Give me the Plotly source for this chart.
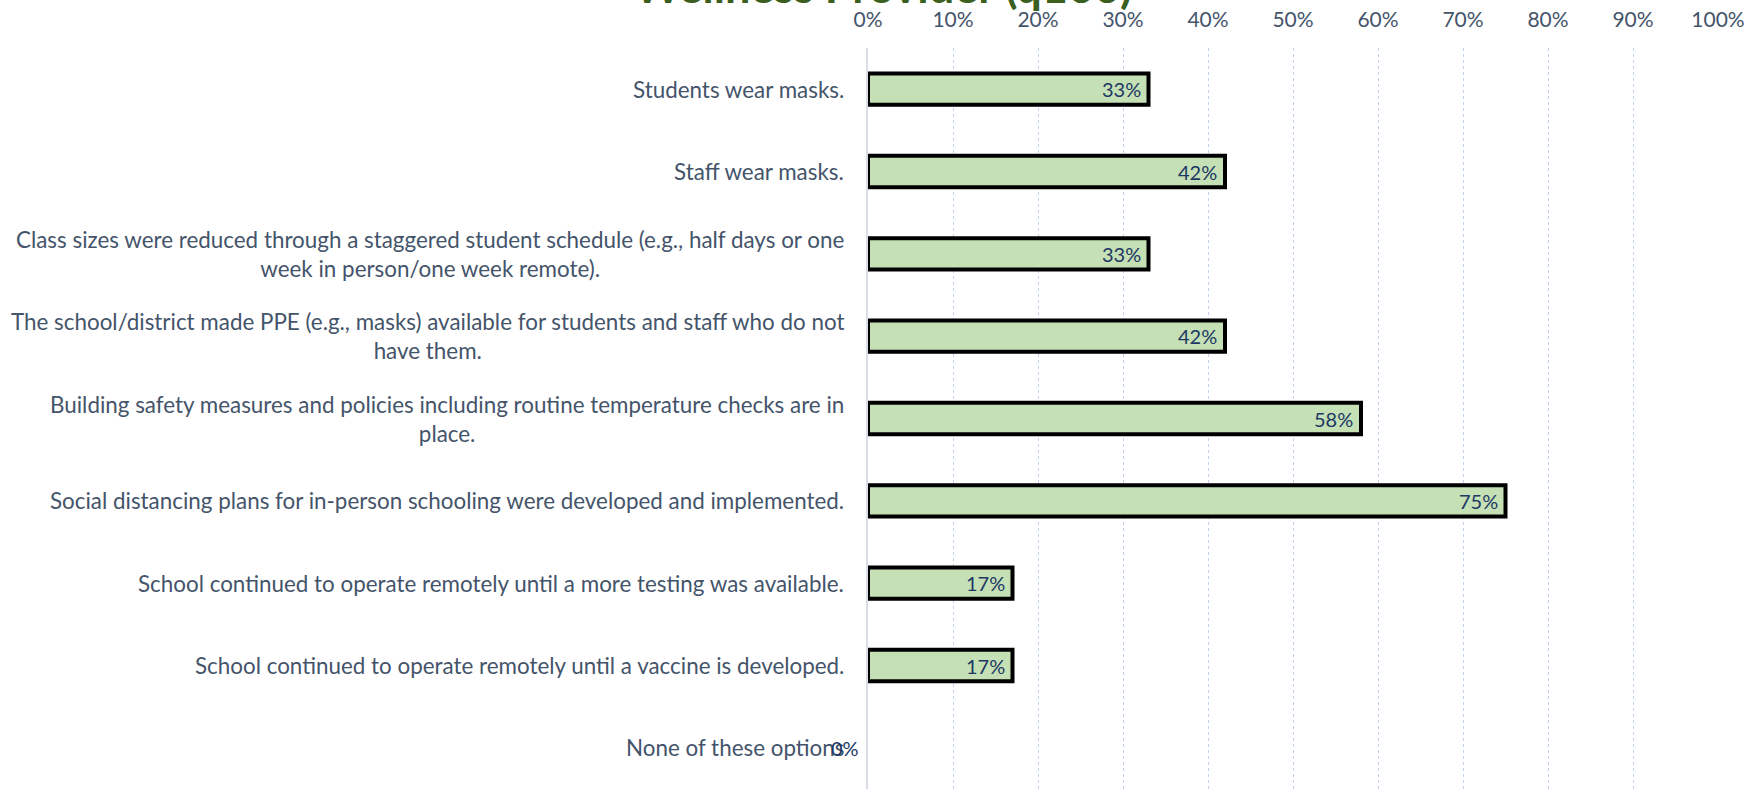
import plotly.graph_objects as go

categories = [
    "Students wear masks.",
    "Staff wear masks.",
    "Class sizes were reduced through a staggered student schedule (e.g., half days or one<br>week in person/one week remote).",
    "The school/district made PPE (e.g., masks) available for students and staff who do not<br>have them.",
    "Building safety measures and policies including routine temperature checks are in<br>place.",
    "Social distancing plans for in-person schooling were developed and implemented.",
    "School continued to operate remotely until a more testing was available.",
    "School continued to operate remotely until a vaccine is developed.",
    "None of these options",
]
values = [33, 42, 33, 42, 58, 75, 17, 17, 0]
x_ticks = [0, 10, 20, 30, 40, 50, 60, 70, 80, 90, 100]
x_tick_labels = [f"{t}%" for t in x_ticks]
title_text = "Wellness Provider (q166)"

FONT = "Lato"
LABEL_COLOR = "#44546a"
VALUE_COLOR = "#203864"

positions = list(range(len(categories)))

fig = go.Figure(
    go.Bar(
        x=values,
        y=positions,
        orientation="h",
        width=0.38,
        marker=dict(
            color="#c5e0b4",
            line=dict(color="#000000", width=[4 if v > 0 else 0 for v in values]),
        ),
        hoverinfo="skip",
    )
)

annotations = []
# category labels, right-aligned against the axis, wrapped lines centred
for pos, label in zip(positions, categories):
    annotations.append(
        dict(
            x=0, y=pos, xref="x", yref="y",
            text=label, showarrow=False,
            xanchor="right", yanchor="middle", align="center",
            xshift=-22,
            font=dict(family=FONT, size=22.4, color=LABEL_COLOR),
        )
    )
# value labels at the inner end of each bar (left of the axis when empty)
for pos, v in zip(positions, values):
    annotations.append(
        dict(
            x=v, y=pos, xref="x", yref="y",
            text=f"{v}%", showarrow=False,
            xanchor="right", yanchor="middle",
            xshift=-6 if v > 0 else -7,
            font=dict(family=FONT, size=20, color=VALUE_COLOR),
        )
    )
# chart title, sitting above the top axis
annotations.append(
    dict(
        x=1.8, y=1, xref="x", yref="paper",
        text=f"<b>{title_text}</b>", showarrow=False,
        xanchor="center", yanchor="middle",
        yshift=62.5,
        font=dict(family=FONT, size=45, color="#3a5f1e"),
    )
)

fig.update_layout(
    width=1758,
    height=789,
    margin=dict(l=868, r=40, t=48, b=0),
    paper_bgcolor="white",
    plot_bgcolor="white",
    showlegend=False,
    annotations=annotations,
    bargap=0.5,
)
fig.update_xaxes(
    side="top",
    range=[0, 100],
    tickvals=x_ticks,
    ticktext=x_tick_labels,
    tickfont=dict(family=FONT, size=21, color=LABEL_COLOR),
    showgrid=True,
    gridcolor="#c3d2ec",
    griddash="dot",
    gridwidth=1,
    zeroline=False,
    showline=False,
    ticks="outside",
    ticklen=12,
    tickcolor="rgba(0,0,0,0)",
    fixedrange=True,
)
fig.update_yaxes(
    range=[len(categories) - 0.5, -0.5],
    showticklabels=False,
    showgrid=False,
    zeroline=False,
    showline=True,
    linecolor="#d9dee6",
    linewidth=2,
    fixedrange=True,
)

fig.write_html("out.html", config={"displayModeBar": False})
